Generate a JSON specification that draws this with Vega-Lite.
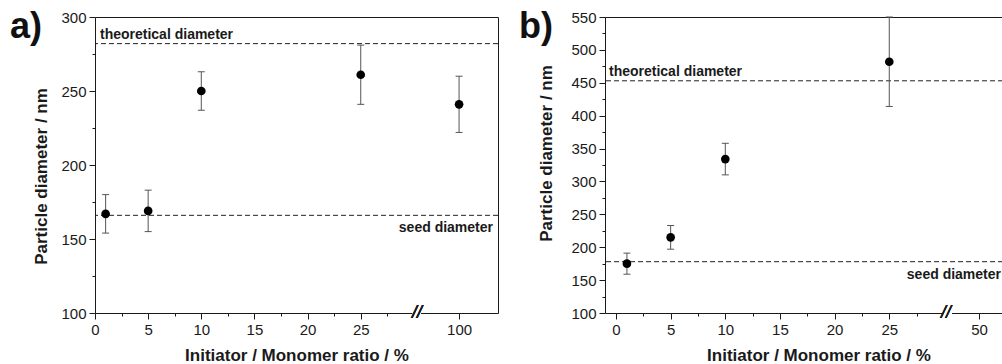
{
  "$schema": "https://vega.github.io/schema/vega-lite/v6.json",
  "padding": {"left": 10, "top": 9, "right": 0, "bottom": 0},
  "background": "white",
  "spacing": 20,
  "config": {
    "view": {"stroke": null},
    "font": "Liberation Sans",
    "axis": {"grid": false, "domainColor": "#1a1a1a", "tickColor": "#1a1a1a", "labelColor": "#1a1a1a", "titleColor": "#1a1a1a", "labelFont": "Liberation Sans", "titleFont": "Liberation Sans", "labelFontSize": 15, "titleFontSize": 17, "titleFontWeight": "bold", "tickSize": 6, "labelPadding": 3, "domainWidth": 1, "tickWidth": 1, "labelFlush": false, "labelOverlap": false},
    "title": {"font": "Liberation Sans", "fontSize": 36, "fontWeight": "bold", "color": "#111111", "anchor": "start", "frame": "group"}
  },
  "datasets": {
    "ptsA": [
      {"ratio": 1, "diameter": 167, "lower": 154, "upper": 180},
      {"ratio": 5, "diameter": 169, "lower": 155, "upper": 183},
      {"ratio": 10, "diameter": 250, "lower": 237, "upper": 263},
      {"ratio": 25, "diameter": 261, "lower": 241, "upper": 281},
      {"ratio": 100, "diameter": 241, "lower": 222, "upper": 260}
    ],
    "linesA": [
      {"kind": "theoretical", "label": "theoretical diameter", "diameter": 282},
      {"kind": "seed", "label": "seed diameter", "diameter": 166}
    ],
    "ptsB": [
      {"ratio": 1, "diameter": 175, "lower": 159, "upper": 191},
      {"ratio": 5, "diameter": 215, "lower": 197, "upper": 233},
      {"ratio": 10, "diameter": 334, "lower": 310, "upper": 358},
      {"ratio": 25, "diameter": 482, "lower": 414, "upper": 550}
    ],
    "linesB": [
      {"kind": "theoretical", "label": "theoretical diameter", "diameter": 453},
      {"kind": "seed", "label": "seed diameter", "diameter": 178}
    ]
  },
  "hconcat": [
    {
      "width": 403, "height": 296,
      "title": {"text": "a)", "dx": -85, "dy": 40, "baseline": "top"},
      "resolve": {"axis": {"x": "independent", "y": "independent"}},
      "layer": [
        {
          "data": {"name": "linesA"},
          "mark": {"type": "rule", "strokeDash": [5, 3], "color": "#222222", "strokeWidth": 1},
          "encoding": {"y": {"field": "diameter", "type": "quantitative", "scale": {"domain": [100, 300], "nice": false, "zero": false}, "axis": null}}
        },
        {
          "data": {"name": "linesA"},
          "transform": [{"filter": "datum.kind === 'theoretical'"}],
          "mark": {"type": "text", "align": "left", "baseline": "alphabetic", "dx": 5, "dy": -5, "fontSize": 14, "fontWeight": "bold", "color": "#1a1a1a"},
          "encoding": {
            "x": {"datum": 0, "type": "quantitative", "scale": {"domain": [0, 30.5, 96.24, 103.67], "range": [0, 324.2, 324.2, 403], "nice": false, "zero": false}, "axis": null},
            "y": {"field": "diameter", "type": "quantitative", "scale": {"domain": [100, 300], "nice": false, "zero": false}, "axis": null},
            "text": {"field": "label"}
          }
        },
        {
          "data": {"name": "linesA"},
          "transform": [{"filter": "datum.kind === 'seed'"}],
          "mark": {"type": "text", "align": "right", "baseline": "top", "dx": -5, "dy": 6, "fontSize": 14, "fontWeight": "bold", "color": "#1a1a1a"},
          "encoding": {
            "x": {"datum": 103.67, "type": "quantitative", "scale": {"domain": [0, 30.5, 96.24, 103.67], "range": [0, 324.2, 324.2, 403], "nice": false, "zero": false}, "axis": null},
            "y": {"field": "diameter", "type": "quantitative", "scale": {"domain": [100, 300], "nice": false, "zero": false}, "axis": null},
            "text": {"field": "label"}
          }
        },
        {
          "data": {"name": "ptsA"},
          "mark": {"type": "rule", "color": "#555555", "strokeWidth": 1},
          "encoding": {
            "x": {"field": "ratio", "type": "quantitative", "scale": {"domain": [0, 30.5, 96.24, 103.67], "range": [0, 324.2, 324.2, 403], "nice": false, "zero": false}, "axis": {"orient": "bottom", "values": [2.5, 7.5, 12.5, 17.5, 22.5, 27.5], "labels": false, "domain": false, "tickSize": 3, "title": null}},
            "y": {"field": "lower", "type": "quantitative", "scale": {"domain": [100, 300], "nice": false, "zero": false}, "axis": {"orient": "left", "values": [125, 175, 225, 275], "labels": false, "domain": false, "tickSize": 3, "title": null}},
            "y2": {"field": "upper"}
          }
        },
        {
          "data": {"name": "ptsA"},
          "mark": {"type": "tick", "orient": "horizontal", "size": 7, "thickness": 1, "color": "#555555", "opacity": 1},
          "encoding": {
            "x": {"field": "ratio", "type": "quantitative", "scale": {"domain": [0, 30.5, 96.24, 103.67], "range": [0, 324.2, 324.2, 403], "nice": false, "zero": false}, "axis": {"orient": "top", "ticks": false, "labels": false, "domain": true, "title": null}},
            "y": {"field": "upper", "type": "quantitative", "scale": {"domain": [100, 300], "nice": false, "zero": false}, "axis": {"orient": "right", "ticks": false, "labels": false, "domain": true, "title": null}}
          }
        },
        {
          "data": {"name": "ptsA"},
          "mark": {"type": "tick", "orient": "horizontal", "size": 7, "thickness": 1, "color": "#555555", "opacity": 1},
          "encoding": {
            "x": {"field": "ratio", "type": "quantitative", "scale": {"domain": [0, 30.5, 96.24, 103.67], "range": [0, 324.2, 324.2, 403], "nice": false, "zero": false}, "axis": null},
            "y": {"field": "lower", "type": "quantitative", "scale": {"domain": [100, 300], "nice": false, "zero": false}, "axis": null}
          }
        },
        {
          "data": {"name": "ptsA"},
          "mark": {"type": "circle", "size": 75, "color": "#000000", "opacity": 1},
          "encoding": {
            "x": {"field": "ratio", "type": "quantitative", "scale": {"domain": [0, 30.5, 96.24, 103.67], "range": [0, 324.2, 324.2, 403], "nice": false, "zero": false}, "axis": {"orient": "bottom", "values": [0, 5, 10, 15, 20, 25, 100], "title": "Initiator / Monomer ratio / %", "titlePadding": 10}},
            "y": {"field": "diameter", "type": "quantitative", "scale": {"domain": [100, 300], "nice": false, "zero": false}, "axis": {"orient": "left", "values": [100, 150, 200, 250, 300], "title": "Particle diameter / nm", "titlePadding": 10, "titleY": 159}}
          }
        },
        {
          "data": {"name": "ptsA"},
          "mark": {"type": "rule", "color": "white", "strokeWidth": 3},
          "encoding": {
            "x": {"datum": 29.9, "type": "quantitative", "scale": {"domain": [0, 30.5, 96.24, 103.67], "range": [0, 324.2, 324.2, 403], "nice": false, "zero": false}, "axis": null},
            "x2": {"datum": 96.4},
            "y": {"datum": 100, "type": "quantitative", "scale": {"domain": [100, 300], "nice": false, "zero": false}, "axis": null}
          }
        },
        {
          "data": {"name": "ptsA"},
          "mark": {"type": "text", "text": "//", "fontSize": 18, "fontStyle": "italic", "align": "center", "baseline": "middle", "color": "#1a1a1a"},
          "encoding": {
            "x": {"datum": 30.3, "type": "quantitative", "scale": {"domain": [0, 30.5, 96.24, 103.67], "range": [0, 324.2, 324.2, 403], "nice": false, "zero": false}, "axis": null},
            "y": {"datum": 100, "type": "quantitative", "scale": {"domain": [100, 300], "nice": false, "zero": false}, "axis": null}
          }
        }
      ]
    },
    {
      "width": 398, "height": 296,
      "title": {"text": "b)", "dx": -86, "dy": 40, "baseline": "top"},
      "resolve": {"axis": {"x": "independent", "y": "independent"}},
      "layer": [
        {
          "data": {"name": "linesB"},
          "mark": {"type": "rule", "strokeDash": [5, 3], "color": "#222222", "strokeWidth": 1},
          "encoding": {"y": {"field": "diameter", "type": "quantitative", "scale": {"domain": [100, 550], "nice": false, "zero": false}, "axis": null}}
        },
        {
          "data": {"name": "linesB"},
          "transform": [{"filter": "datum.kind === 'theoretical'"}],
          "mark": {"type": "text", "align": "left", "baseline": "alphabetic", "dx": 4, "dy": -5, "fontSize": 14, "fontWeight": "bold", "color": "#1a1a1a"},
          "encoding": {
            "x": {"datum": -1.006, "type": "quantitative", "scale": {"domain": [-1.006, 30.4, 47.19, 52.2], "range": [0, 343.3, 343.3, 398], "nice": false, "zero": false}, "axis": null},
            "y": {"field": "diameter", "type": "quantitative", "scale": {"domain": [100, 550], "nice": false, "zero": false}, "axis": null},
            "text": {"field": "label"}
          }
        },
        {
          "data": {"name": "linesB"},
          "transform": [{"filter": "datum.kind === 'seed'"}],
          "mark": {"type": "text", "align": "right", "baseline": "top", "dx": -2, "dy": 6, "fontSize": 14, "fontWeight": "bold", "color": "#1a1a1a"},
          "encoding": {
            "x": {"datum": 52.2, "type": "quantitative", "scale": {"domain": [-1.006, 30.4, 47.19, 52.2], "range": [0, 343.3, 343.3, 398], "nice": false, "zero": false}, "axis": null},
            "y": {"field": "diameter", "type": "quantitative", "scale": {"domain": [100, 550], "nice": false, "zero": false}, "axis": null},
            "text": {"field": "label"}
          }
        },
        {
          "data": {"name": "ptsB"},
          "mark": {"type": "rule", "color": "#555555", "strokeWidth": 1},
          "encoding": {
            "x": {"field": "ratio", "type": "quantitative", "scale": {"domain": [-1.006, 30.4, 47.19, 52.2], "range": [0, 343.3, 343.3, 398], "nice": false, "zero": false}, "axis": {"orient": "bottom", "values": [2.5, 7.5, 12.5, 17.5, 22.5, 27.5], "labels": false, "domain": false, "tickSize": 3, "title": null}},
            "y": {"field": "lower", "type": "quantitative", "scale": {"domain": [100, 550], "nice": false, "zero": false}, "axis": {"orient": "left", "values": [125, 175, 225, 275, 325, 375, 425, 475, 525], "labels": false, "domain": false, "tickSize": 3, "title": null}},
            "y2": {"field": "upper"}
          }
        },
        {
          "data": {"name": "ptsB"},
          "mark": {"type": "tick", "orient": "horizontal", "size": 7, "thickness": 1, "color": "#555555", "opacity": 1},
          "encoding": {
            "x": {"field": "ratio", "type": "quantitative", "scale": {"domain": [-1.006, 30.4, 47.19, 52.2], "range": [0, 343.3, 343.3, 398], "nice": false, "zero": false}, "axis": {"orient": "top", "ticks": false, "labels": false, "domain": true, "title": null}},
            "y": {"field": "upper", "type": "quantitative", "scale": {"domain": [100, 550], "nice": false, "zero": false}, "axis": null}
          }
        },
        {
          "data": {"name": "ptsB"},
          "mark": {"type": "tick", "orient": "horizontal", "size": 7, "thickness": 1, "color": "#555555", "opacity": 1},
          "encoding": {
            "x": {"field": "ratio", "type": "quantitative", "scale": {"domain": [-1.006, 30.4, 47.19, 52.2], "range": [0, 343.3, 343.3, 398], "nice": false, "zero": false}, "axis": null},
            "y": {"field": "lower", "type": "quantitative", "scale": {"domain": [100, 550], "nice": false, "zero": false}, "axis": null}
          }
        },
        {
          "data": {"name": "ptsB"},
          "mark": {"type": "circle", "size": 75, "color": "#000000", "opacity": 1},
          "encoding": {
            "x": {"field": "ratio", "type": "quantitative", "scale": {"domain": [-1.006, 30.4, 47.19, 52.2], "range": [0, 343.3, 343.3, 398], "nice": false, "zero": false}, "axis": {"orient": "bottom", "values": [0, 5, 10, 15, 20, 25, 50], "title": "Initiator / Monomer ratio / %", "titlePadding": 10, "titleX": 213.5}},
            "y": {"field": "diameter", "type": "quantitative", "scale": {"domain": [100, 550], "nice": false, "zero": false}, "axis": {"orient": "left", "values": [100, 150, 200, 250, 300, 350, 400, 450, 500, 550], "title": "Particle diameter / nm", "titlePadding": 15, "titleY": 136}}
          }
        },
        {
          "data": {"name": "ptsB"},
          "mark": {"type": "rule", "color": "white", "strokeWidth": 3},
          "encoding": {
            "x": {"datum": 30.0, "type": "quantitative", "scale": {"domain": [-1.006, 30.4, 47.19, 52.2], "range": [0, 343.3, 343.3, 398], "nice": false, "zero": false}, "axis": null},
            "x2": {"datum": 47.5},
            "y": {"datum": 100, "type": "quantitative", "scale": {"domain": [100, 550], "nice": false, "zero": false}, "axis": null}
          }
        },
        {
          "data": {"name": "ptsB"},
          "mark": {"type": "text", "text": "//", "fontSize": 18, "fontStyle": "italic", "align": "center", "baseline": "middle", "color": "#1a1a1a"},
          "encoding": {
            "x": {"datum": 30.2, "type": "quantitative", "scale": {"domain": [-1.006, 30.4, 47.19, 52.2], "range": [0, 343.3, 343.3, 398], "nice": false, "zero": false}, "axis": null},
            "y": {"datum": 100, "type": "quantitative", "scale": {"domain": [100, 550], "nice": false, "zero": false}, "axis": null}
          }
        }
      ]
    }
  ]
}
